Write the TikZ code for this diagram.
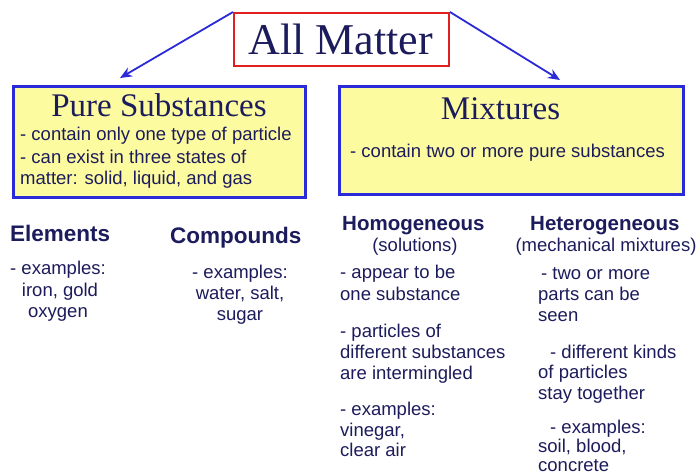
\documentclass[tikz,border=0pt]{standalone}
\usepackage{fontspec}
\setmainfont{Liberation Serif}
\setsansfont{Liberation Sans}
\usetikzlibrary{arrows.meta}
\definecolor{ink}{HTML}{1C1C5C}
\definecolor{boxfill}{HTML}{FDFBA0}
\definecolor{boxblue}{HTML}{2A2AD8}
\definecolor{boxred}{HTML}{E02020}
\tikzset{
  bigbox/.style={draw=boxblue, line width=2.5pt, fill=boxfill, anchor=north west, inner sep=0},
  serifttl/.style={font=\rmfamily\fontsize{33}{36}\selectfont, text=ink, inner sep=0, anchor=base},
  body/.style={font=\sffamily\fontsize{18.5}{22}\selectfont, text=ink, inner sep=0, anchor=base west},
  bodyc/.style={body, anchor=base},
  headA/.style={font=\sffamily\bfseries\fontsize{22.5}{26}\selectfont, text=ink, inner sep=0, anchor=base west},
  headB/.style={font=\sffamily\bfseries\fontsize{20.5}{24}\selectfont, text=ink, inner sep=0, anchor=base west},
  arr/.style={draw=boxblue, line width=1.8pt, -{Stealth[length=12pt,width=10pt]}}
}
\begin{document}
\begin{tikzpicture}[x=1pt,y=-1pt]
\useasboundingbox[fill=white] (0,0) rectangle (699,474);
% boxes
\node[draw=boxred, line width=2pt, fill=white, anchor=north west, minimum width=215pt, minimum height=53pt, inner sep=0] (am) at (233,12) {};
\node[font=\rmfamily\fontsize{44}{48}\selectfont, text=ink, inner sep=0, anchor=base] (amt) at (340.5,54) {All Matter};
\node[bigbox, minimum width=292pt, minimum height=111pt] (ps) at (12,85) {};
\node[bigbox, minimum width=344pt, minimum height=108pt] (mx) at (338,85) {};
% arrows
\coordinate (psin) at (120,78);
\coordinate (mxin) at (560,80);
\draw[arr] (am.north west) -- (psin);
\draw[arr] (am.north east) -- (mxin);
% box texts
\node[serifttl] (pst) at (159,116) {Pure Substances};
\node[body] (ps1) at (20,140.5) {- contain only one type of particle};
\node[body] (ps2) at (20,163.5) {- can exist in three states of};
\node[body] (ps3) at (20,184.5) {matter: solid, liquid, and gas};
\node[serifttl] (mxt) at (500.5,119) {Mixtures};
\node[body] (mx1) at (350,157.5) {- contain two or more pure substances};
% elements
\node[headA] (el) at (10,241) {Elements};
\node[body] (el1) at (10,274.5) {- examples:};
\node[bodyc] (el2) at (60,296.5) {iron, gold};
\node[bodyc] (el3) at (58,317.5) {oxygen};
% compounds
\node[headA] (co) at (170,243) {Compounds};
\node[bodyc] (co1) at (240,278.5) {- examples:};
\node[bodyc] (co2) at (240,299.5) {water, salt,};
\node[bodyc] (co3) at (240,320.5) {sugar};
% homogeneous
\node[headB] (ho) at (342,230) {Homogeneous};
\node[bodyc] (ho0) at (415,251.5) {(solutions)};
\node[body] (ho1) at (340,278.5) {- appear to be};
\node[body] (ho2) at (340,300.5) {one substance};
\node[body] (ho3) at (340,337.5) {- particles of};
\node[body] (ho4) at (340,358.5) {different substances};
\node[body] (ho5) at (340,379.5) {are intermingled};
\node[body] (ho6) at (340,415.5) {- examples:};
\node[body] (ho7) at (340,436.5) {vinegar,};
\node[body] (ho8) at (340,456.5) {clear air};
% heterogeneous
\node[headB] (he) at (530,230) {Heterogeneous};
\node[bodyc] (he0) at (606,251.5) {(mechanical mixtures)};
\node[body] (he1) at (541,279.5) {- two or more};
\node[body] (he2) at (538,300.5) {parts can be};
\node[body] (he3) at (538,321.5) {seen};
\node[body] (he4) at (550,358.5) {- different kinds};
\node[body] (he5) at (538,378.5) {of particles};
\node[body] (he6) at (538,399.5) {stay together};
\node[body] (he7) at (550,433) {- examples:};
\node[body] (he8) at (538,452) {soil, blood,};
\node[body] (he9) at (538,471) {concrete};
\end{tikzpicture}
\end{document}
